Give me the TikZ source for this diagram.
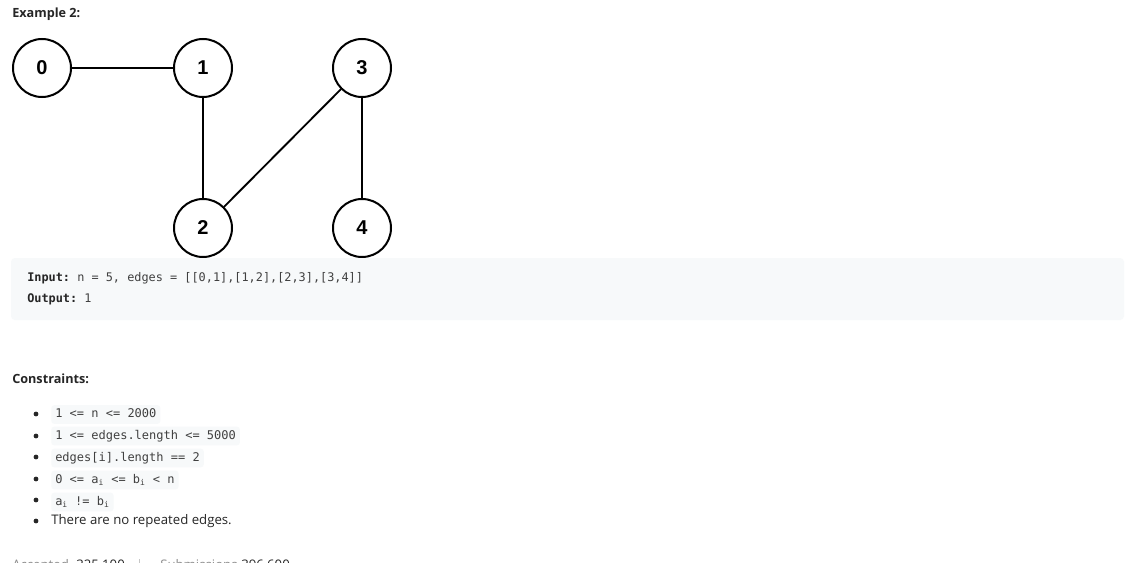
\documentclass[tikz,border=0pt]{standalone}
\usepackage{fontspec}
\setmainfont{Open Sans}
\setsansfont{Liberation Sans}
\setmonofont{DejaVu Sans Mono}
\usetikzlibrary{positioning}
\definecolor{codebg}{HTML}{F7F9FA}
\definecolor{txt}{HTML}{262626}
\definecolor{codetxt}{HTML}{404040}
\definecolor{softtxt}{HTML}{8C8C8C}

\begin{document}
\begin{tikzpicture}[x=0.75pt,y=-0.75pt,
  vertex/.style={draw, circle, line width=1.5pt, minimum size=43.5pt, inner sep=0pt, font=\sffamily\bfseries\fontsize{15}{17}\selectfont},
  heading/.style={anchor=west, inner sep=0pt, text=txt, font=\bfseries\fontsize{9.5}{11}\selectfont},
  codeline/.style={anchor=west, inner sep=0pt, text=codetxt, font=\ttfamily\fontsize{8.9}{10}\selectfont},
  codechip/.style={anchor=west, fill=codebg, rounded corners=2.25pt, inner xsep=3pt, inner ysep=2.5pt, text height=7pt, text depth=2pt, text=codetxt, font=\ttfamily\fontsize{9}{10}\selectfont},
  plain/.style={anchor=west, inner sep=0pt, text=txt, font=\fontsize{9.9}{12}\selectfont},
  bullet/.style={circle, fill=txt, inner sep=0pt, minimum size=3.6pt}]
\useasboundingbox (0,0) rectangle (1145,563);
\fill[white] (0,0) rectangle (1145,563);

\node[heading] (title) at (12,14) {Example 2:};

\node[vertex] (v0) at (42,68) {0};
\node[vertex] (v1) at (203,68) {1};
\node[vertex] (v3) at (362,68) {3};
\node[vertex] (v2) at (203,228) {2};
\node[vertex] (v4) at (362,228) {4};

\draw[line width=1.4pt] (v0) -- (v1) -- (v2);
\draw[line width=1.4pt] (v3) -- (v2);
\draw[line width=1.4pt] (v3) -- (v4);

\fill[codebg, rounded corners=3pt] (11,258) rectangle (1124,320);
\node[codeline] (input) at (27,278) {{\color{txt}\bfseries Input:} n = 5, edges = [[0,1],[1,2],[2,3],[3,4]]};
\node[codeline] (output) at (27,299) {{\color{txt}\bfseries Output:} 1};

\node[heading] (constraints) at (12,379) {Constraints:};

\node[bullet] (b1) at (36,414) {};
\node[bullet] (b2) at (36,436) {};
\node[bullet] (b3) at (36,457) {};
\node[bullet] (b4) at (36,479) {};
\node[bullet] (b5) at (36,500) {};
\node[bullet] (b6) at (36,521) {};

\node[codechip] (c1) at (51,414.5) {1 <= n <= 2000};
\node[codechip] (c2) at (51,436) {1 <= edges.length <= 5000};
\node[codechip] (c3) at (51,458) {edges[i].length == 2};
\node[codechip] (c4) at (51,480) {0 <= a\textsubscript{i} <= b\textsubscript{i} < n};
\node[codechip] (c5) at (51,502) {a\textsubscript{i} != b\textsubscript{i}};
\node[plain] (c6) at (51,521) {There are no repeated edges.};

\begin{scope}
\clip (0,0) rectangle (1145,563);
\node[plain, anchor=north west, text=softtxt] (acc) at (12,559.5) {Accepted};
\node[plain, anchor=north west] (accn) at (76,559.5) {325,100};
\draw[softtxt!50] (139,559) -- (139,563);
\node[plain, anchor=north west, text=softtxt] (sub) at (160,559.5) {Submissions};
\node[plain, anchor=north west] (subn) at (241,559.5) {396,600};
\end{scope}
\end{tikzpicture}
\end{document}
